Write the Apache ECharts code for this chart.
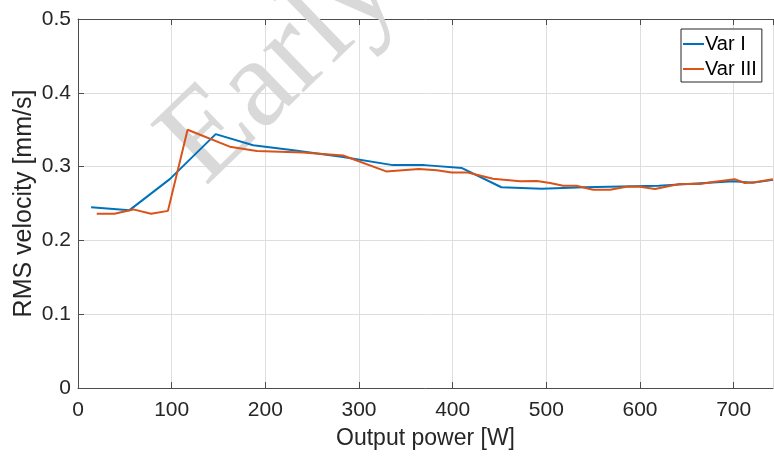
<!DOCTYPE html>
<html>
<head>
<meta charset="utf-8">
<script src="https://cdn.jsdelivr.net/npm/echarts@6/dist/echarts.min.js"></script>
<style>html,body{margin:0;padding:0;background:#fff}#c{width:774px;height:457px}</style>
</head>
<body>
<div id="c"></div>
<script>
var xTicks = [0, 100, 200, 300, 400, 500, 600, 700];
var yTicks = [0, 0.1, 0.2, 0.3, 0.4, 0.5];
var varIx = [14, 55, 98, 147, 187, 230, 283, 336, 370, 410, 452, 495, 540, 580, 620, 660, 700, 720, 742];
var varIy = [0.245, 0.241, 0.283, 0.344, 0.329, 0.322, 0.313, 0.302, 0.302, 0.298, 0.272, 0.270, 0.272, 0.273, 0.274, 0.277, 0.280, 0.278, 0.282];
var varIIIx = [20, 39, 59, 78, 96, 117, 162, 191, 240, 283, 329, 364, 383, 399, 416, 443, 472, 490, 504, 518, 532, 550, 568, 587, 600, 616, 642, 664, 678, 701, 712, 724, 742];
var varIIIy = [0.236, 0.236, 0.242, 0.236, 0.240, 0.350, 0.327, 0.321, 0.319, 0.315, 0.2935, 0.2966, 0.295, 0.292, 0.292, 0.2836, 0.280, 0.2805, 0.2778, 0.274, 0.274, 0.2687, 0.2687, 0.273, 0.2727, 0.2696, 0.2763, 0.2763, 0.279, 0.283, 0.2777, 0.279, 0.283];

function pairs(xs, ys) { return xs.map(function (x, i) { return [x, ys[i]]; }); }

var FONT = '"Liberation Sans", Arial, sans-serif';
var axisColor = '#4d4d4d';
var chart = echarts.init(document.getElementById('c'), null, {renderer: 'canvas'});
chart.setOption({
  animation: false,
  backgroundColor: '#fff',
  grid: {left: 78, right: 1, top: 19, bottom: 69, containLabel: false, outerBoundsMode: 'none'},
  legend: {
    orient: 'vertical', left: 681, top: 29,
    backgroundColor: '#fff', borderColor: '#262626', borderWidth: 1, borderRadius: 0,
    padding: [5, 5, 3, 2], itemGap: 5, itemWidth: 21, itemHeight: 2, icon: 'rect',
    textStyle: {fontFamily: FONT, fontSize: 20, lineHeight: 20, color: '#000', padding: [0, 0, 0, -4]},
    data: ['Var I', 'Var III']
  },
  graphic: [{
    type: 'text', z: 1, x: 182, y: 163, rotation: 44 * Math.PI / 180,
    style: {text: 'Early', font: '127px "Liberation Serif", serif', fill: '#d9d9d9', align: 'left', verticalAlign: 'middle'}
  }],
  xAxis: [{
    type: 'value', min: 0, max: 742, interval: 100,
    name: 'Output power [W]', nameLocation: 'middle', nameGap: 39, nameMoveOverlap: false,
    nameTextStyle: {fontFamily: FONT, fontSize: 23, color: '#262626'},
    axisLine: {show: true, onZero: false, lineStyle: {color: axisColor, width: 1}},
    axisTick: {show: true, inside: true, length: 6, lineStyle: {color: axisColor}},
    axisLabel: {fontFamily: FONT, fontSize: 21, color: '#262626', margin: 12, showMaxLabel: false,
      formatter: function (v) { return xTicks.indexOf(v) >= 0 ? String(v) : ''; }},
    splitLine: {show: true, lineStyle: {color: '#dedede', width: 1}}
  }, {
    type: 'value', position: 'top', min: 0, max: 742, interval: 100,
    axisLine: {show: true, onZero: false, lineStyle: {color: axisColor, width: 1}},
    axisTick: {show: true, inside: true, length: 6, lineStyle: {color: axisColor}},
    axisLabel: {show: false}, splitLine: {show: false}
  }],
  yAxis: [{
    type: 'value', min: 0, max: 0.5, interval: 0.1,
    name: 'RMS velocity [mm/s]', nameLocation: 'middle', nameGap: 41, nameMoveOverlap: false,
    nameTextStyle: {fontFamily: FONT, fontSize: 25, color: '#262626'},
    axisLine: {show: true, onZero: false, lineStyle: {color: axisColor, width: 1}},
    axisTick: {show: true, inside: true, length: 6, lineStyle: {color: axisColor}},
    axisLabel: {fontFamily: FONT, fontSize: 21, color: '#262626', margin: 7,
      formatter: function (v) { var t = yTicks.filter(function (k) { return Math.abs(k - v) < 1e-9; }); return t.length ? (v === 0 ? '0' : v.toFixed(1)) : ''; }},
    splitLine: {show: true, lineStyle: {color: '#dedede', width: 1}}
  }],
  series: [{
    name: 'Var I', type: 'line', z: 3, symbol: 'none', data: pairs(varIx, varIy),
    lineStyle: {color: '#0072BD', width: 2}, itemStyle: {color: '#0072BD'}
  }, {
    name: 'Var III', type: 'line', z: 4, symbol: 'none', data: pairs(varIIIx, varIIIy),
    lineStyle: {color: '#D95319', width: 2}, itemStyle: {color: '#D95319'}
  }]
});
</script>
</body>
</html>
